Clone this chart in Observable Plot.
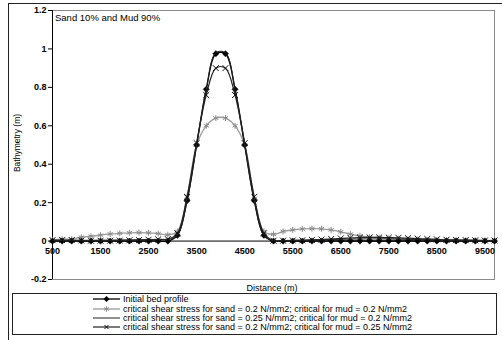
<!DOCTYPE html>
<html><head><meta charset="utf-8">
<script src="https://cdn.jsdelivr.net/npm/d3@7"></script>
<script src="https://cdn.jsdelivr.net/npm/@observablehq/plot@0.6"></script>
<style>
html,body{margin:0;padding:0;background:#fff;width:502px;height:340px;overflow:hidden;font-family:"Liberation Sans",Arial,sans-serif;color:#000;}
#wrap{position:relative;width:502px;height:340px;overflow:hidden;}
#border{position:absolute;left:8px;top:3px;width:600px;height:400px;border-left:1.5px solid #222;border-top:1.5px solid #222;}
#chart{position:absolute;left:0;top:0;}
#title{position:absolute;left:55px;top:13px;font-size:9.5px;line-height:10px;white-space:nowrap;}
#ytitle{position:absolute;left:17px;top:143px;transform:translate(-50%,-50%) rotate(-90deg);font-size:8.5px;white-space:nowrap;}
#xtitle{position:absolute;left:272px;top:288px;transform:translate(-50%,-50%);font-size:9px;white-space:nowrap;}
#legend{position:absolute;left:12px;top:293px;width:483px;height:40px;border:1px solid #222;}
.row{position:absolute;left:80px;height:10px;display:flex;align-items:center;font-size:9px;white-space:nowrap;}
.row svg{margin-right:2px;}
</style></head>
<body><div id="wrap">
<div id="border"></div>
<div id="chart"></div>
<div id="title">Sand 10% and Mud 90%</div>
<div id="ytitle">Bathymetry (m)</div>
<div id="xtitle">Distance (m)</div>
<div id="legend"></div>
</div>
<script>
const distance = [500,700,900,1100,1300,1500,1700,1900,2100,2300,2500,2700,2900,3100,3300,3500,3700,3900,4100,4300,4500,4700,4900,5100,5300,5500,5700,5900,6100,6300,6500,6700,6900,7100,7300,7500,7700,7900,8100,8300,8500,8700,8900,9100,9300,9500,9700];
const initialBed = [0,0,0,0,0,0,0,0,0,0,0,0,0,0.03,0.21,0.5,0.79,0.975,0.975,0.79,0.5,0.21,0.03,0,0,0,0,0,0,0,0,0,0,0,0,0,0,0,0,0,0,0,0,0,0,0,0];
const sand02mud02 = [0.005,0.01,0.01,0.02,0.025,0.031,0.037,0.04,0.043,0.044,0.043,0.039,0.033,0.05,0.23,0.5,0.6,0.64,0.64,0.6,0.5,0.22,0.05,0.035,0.05,0.058,0.063,0.065,0.064,0.058,0.048,0.036,0.027,0.021,0.017,0.014,0.011,0.009,0.008,0.007,0.006,0.005,0.004,0.004,0.003,0.003,0.003];
const sand025mud02 = [0.002,0.003,0.003,0.004,0.004,0.005,0.005,0.006,0.006,0.007,0.008,0.008,0.008,0.03,0.21,0.5,0.79,0.98,0.98,0.79,0.5,0.21,0.03,0.002,0.003,0.004,0.005,0.006,0.007,0.008,0.009,0.01,0.011,0.011,0.011,0.011,0.01,0.009,0.008,0.007,0.006,0.005,0.004,0.004,0.003,0.003,0.002];
const sand02mud025 = [0.005,0.005,0.005,0.003,0.002,0.002,0.002,0.003,0.004,0.005,0.007,0.009,0.01,0.04,0.23,0.51,0.76,0.9,0.9,0.76,0.51,0.23,0.04,0.002,0.002,0.003,0.004,0.006,0.008,0.011,0.014,0.016,0.018,0.019,0.019,0.018,0.017,0.015,0.013,0.011,0.009,0.007,0.006,0.005,0.004,0.003,0.003];
const xTicks = [500,1500,2500,3500,4500,5500,6500,7500,8500,9500];
const yTicks = [-0.2,0,0.2,0.4,0.6,0.8,1,1.2];
const seriesNames = [
  "Initial bed profile",
  "critical shear stress for sand = 0.2 N/mm2; critical for mud = 0.2 N/mm2",
  "critical shear stress for sand = 0.25 N/mm2; critical for mud = 0.2 N/mm2",
  "critical shear stress for sand = 0.2 N/mm2; critical for mud = 0.25 N/mm2"
];

const rows = (vals) => distance.map((d, i) => ({x: d, y: vals[i]}));
const s1 = rows(initialBed), s2 = rows(sand02mud02), s3 = rows(sand025mud02), s4 = rows(sand02mud025);

const chart = Plot.plot({
  width: 502, height: 292,
  marginLeft: 52, marginRight: 8, marginTop: 10, marginBottom: 13,
  x: {domain: [500, 9700], axis: null},
  y: {domain: [-0.2, 1.2], axis: null},
  style: {fontFamily: "Liberation Sans, Arial, sans-serif", fontSize: "9px", background: "transparent"},
  marks: [
    Plot.frame({stroke: "#8a8a8a", strokeWidth: 1}),
    Plot.ruleY([0], {stroke: "#000", strokeWidth: 1}),
    Plot.ruleX([500], {stroke: "#000", strokeWidth: 1}),
    Plot.axisY(yTicks, {anchor: "left", tickSize: 4, tickPadding: 2, tickFormat: d => String(d), label: null, fontWeight: "bold", stroke: "#000"}),
    Plot.text(xTicks, {x: d => d, y: 0, dy: 10, text: d => String(d), fontWeight: "bold"}),
    Plot.line(s2, {x: "x", y: "y", stroke: "#9a9a9a", strokeWidth: 1.3, curve: "catmull-rom"}),
    Plot.dot(s2, {x: "x", y: "y", symbol: "asterisk", r: 2.8, stroke: "#8a8a8a", strokeWidth: 1}),
    Plot.line(s1, {x: "x", y: "y", stroke: "#000", strokeWidth: 1.4, curve: "catmull-rom"}),
    Plot.dot(s1, {x: "x", y: "y", symbol: "diamond2", r: 2.8, fill: "#000", stroke: "#000", strokeWidth: 0.5}),
    Plot.line(s3, {x: "x", y: "y", stroke: "#222", strokeWidth: 1, curve: "catmull-rom"}),
    Plot.line(s4, {x: "x", y: "y", stroke: "#222", strokeWidth: 1.2, curve: "catmull-rom"}),
    Plot.dot(s4, {x: "x", y: "y", symbol: "times", r: 2.8, stroke: "#111", strokeWidth: 1})
  ]
});
document.getElementById("chart").appendChild(chart);

// legend
const keys = [
  `<line x1="0" y1="4" x2="27" y2="4" stroke="#000" stroke-width="1.3"/><path d="M13.5 1 L16.5 4 L13.5 7 L10.5 4 Z" fill="#000"/>`,
  `<line x1="0" y1="4" x2="27" y2="4" stroke="#9a9a9a" stroke-width="1.3"/><path d="M13.5 1.2 V6.8 M11.1 2.6 L15.9 5.4 M11.1 5.4 L15.9 2.6" stroke="#8a8a8a" stroke-width="1"/>`,
  `<line x1="0" y1="4" x2="27" y2="4" stroke="#222" stroke-width="1"/>`,
  `<line x1="0" y1="4" x2="27" y2="4" stroke="#222" stroke-width="1.2"/><path d="M11.5 2 L15.5 6 M11.5 6 L15.5 2" stroke="#111" stroke-width="1"/>`
];
const legend = document.getElementById("legend");
const tops = [0, 9.5, 18.7, 27.9];
seriesNames.forEach((name, i) => {
  const r = document.createElement("div");
  r.className = "row";
  r.style.top = tops[i] + "px";
  r.innerHTML = `<svg width="28" height="8">${keys[i]}</svg><span>${name}</span>`;
  legend.appendChild(r);
});
</script>
</body></html>
